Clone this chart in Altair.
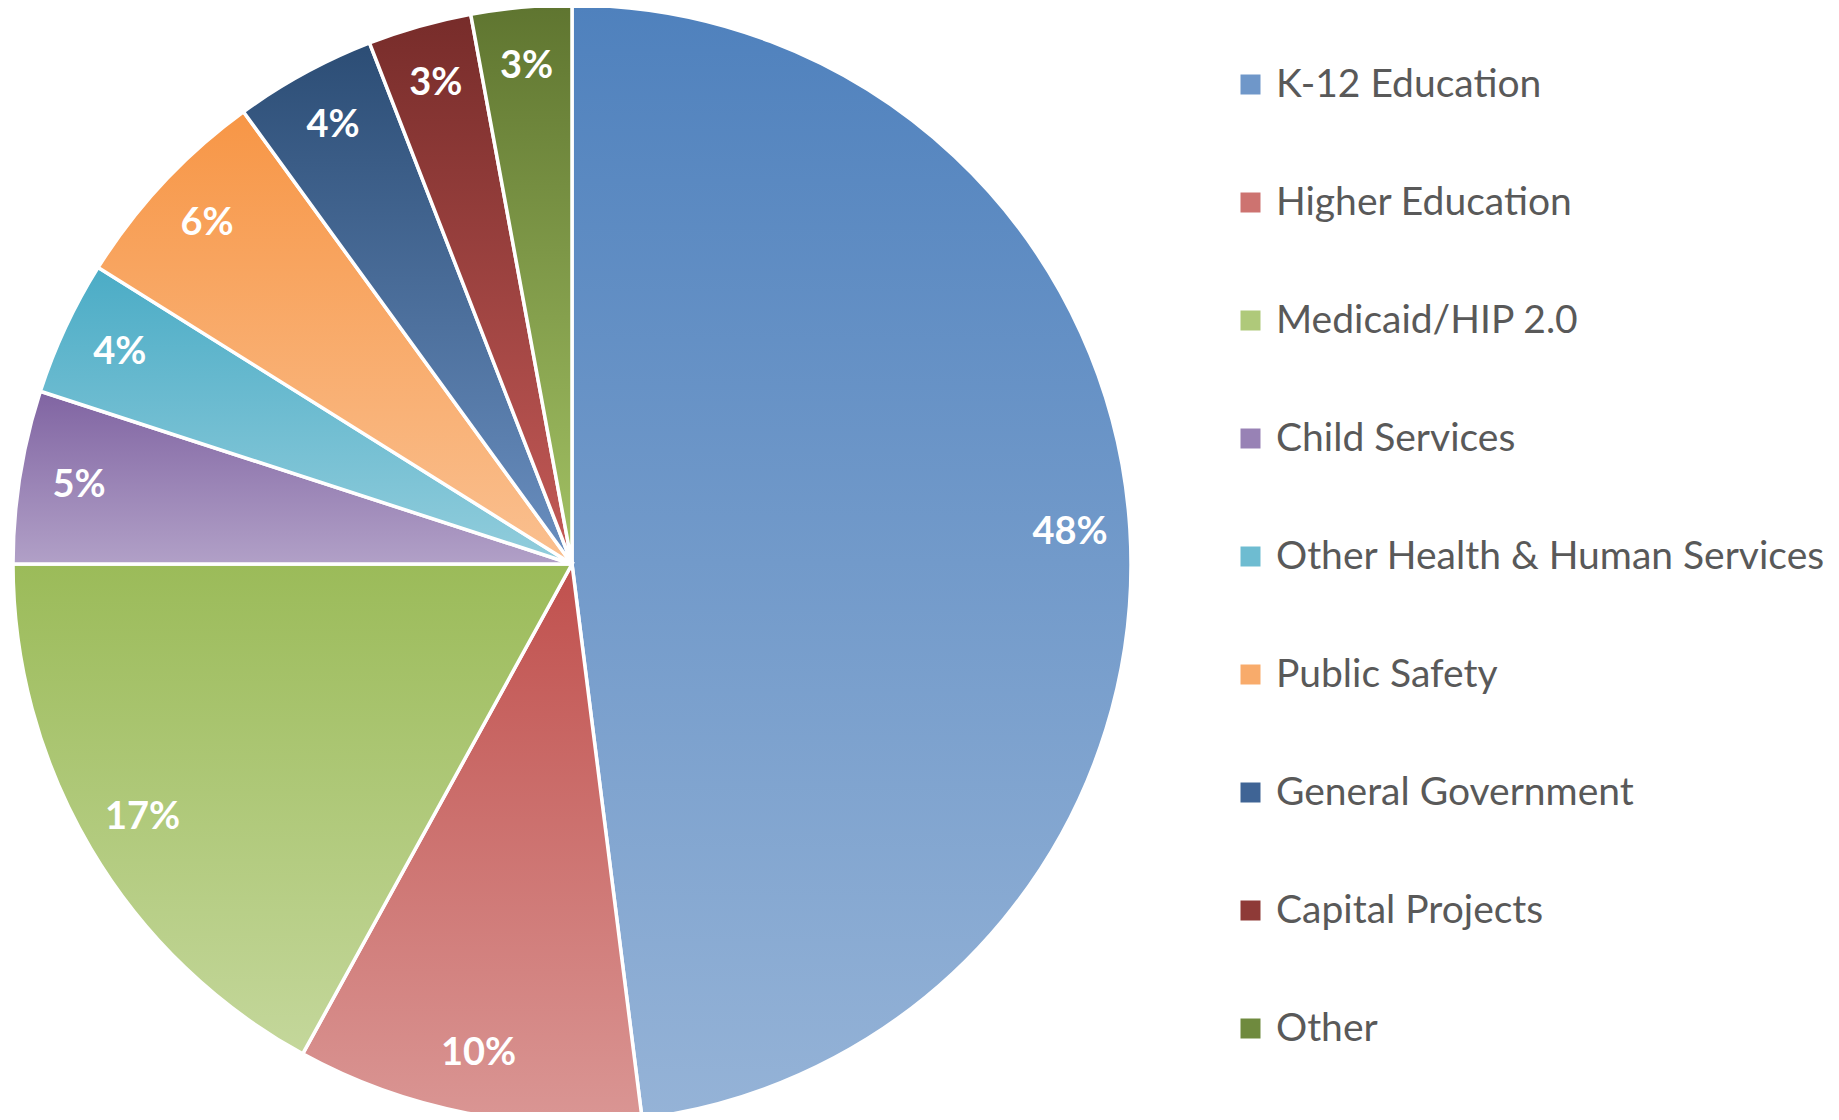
import altair as alt
import pandas as pd

categories = [
    "K-12 Education",
    "Higher Education",
    "Medicaid/HIP 2.0",
    "Child Services",
    "Other Health & Human Services",
    "Public Safety",
    "General Government",
    "Capital Projects",
    "Other",
]
values = [48.0, 10.0, 17.0, 5.0, 3.9, 6.1, 4.1, 3.0, 2.9]
top_colors = ["#4F81BD", "#C0504D", "#9BBB59", "#8064A2", "#4BACC6",
              "#F79646", "#2C4D75", "#772C2A", "#5F7530"]
bottom_colors = ["#95B3D7", "#DA9694", "#C4D79B", "#B1A0C7", "#92CDDC",
                 "#FAC090", "#6A8FC0", "#C45A57", "#A3C264"]
legend_colors = ["#6F97C9", "#CD7370", "#AFC97A", "#9882B5", "#6EBCD1",
                 "#F8AB6B", "#3F6495", "#8E3A37", "#6F8A3E"]

df = pd.DataFrame({"category": categories, "value": values, "idx": list(range(len(categories)))})

CX, CY, R = 564, 556, 559


def grad(top, bottom):
    return {
        "gradient": "linear",
        "x1": 0, "y1": 0, "x2": 0, "y2": 1,
        "stops": [{"offset": 0, "color": top}, {"offset": 1, "color": bottom}],
    }


conds = [
    {"test": f"datum.category === '{c}'", "value": grad(t, b)}
    for c, t, b in zip(categories, top_colors, bottom_colors)
]

base = alt.Chart(df).encode(
    theta=alt.Theta("value:Q", stack=True),
    order=alt.Order("idx:Q"),
    x=alt.value(CX),
    y=alt.value(CY),
)

solid = base.mark_arc(radius=R).encode(
    color=alt.Color(
        "category:N",
        scale=alt.Scale(domain=categories, range=legend_colors),
        sort=categories,
        legend=alt.Legend(
            title=None,
            orient="none",
            legendX=1223,
            legendY=57,
            symbolType="square",
            symbolSize=400,
            symbolStrokeWidth=0,
            labelFont="Lato",
            labelFontSize=39,
            labelColor="#595959",
            labelOffset=6,
            rowPadding=78,
            padding=0,
            labelLimit=700,
        ),
    )
)

shaded = base.mark_arc(radius=R, stroke="white", strokeWidth=3.5).encode(
    fill=alt.FillValue(value="#999999", condition=conds)
)

labels = base.mark_text(
    radius=499, font="Lato", fontWeight="bold", fontSize=38,
    color="white", align="center", baseline="middle",
).transform_calculate(
    label="format(datum.value, '.0f') + '%'"
).encode(text="label:N")

chart = alt.layer(solid, shaded, labels).properties(
    width=1823, height=1104,
    autosize=alt.AutoSizeParams(type="none"),
    padding=0,
).configure_view(stroke=None)

chart.save("out.html", embed_options={"renderer": "svg", "actions": False})
